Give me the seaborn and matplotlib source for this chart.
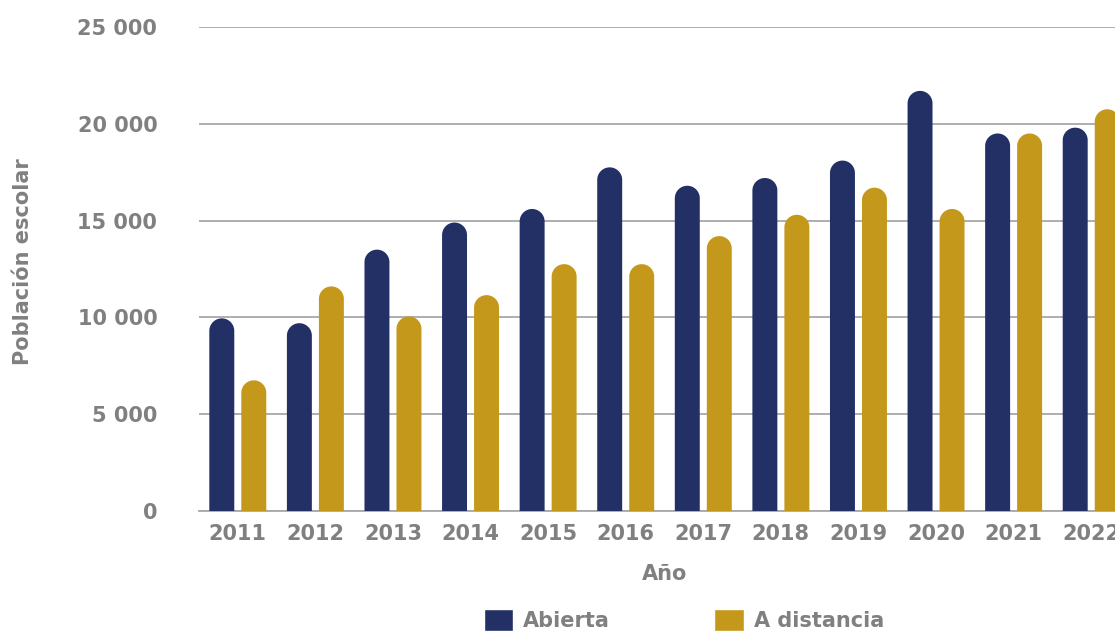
import matplotlib
matplotlib.use("Agg")
import matplotlib.pyplot as plt
from matplotlib.patches import PathPatch
from matplotlib.path import Path
import numpy as np
import seaborn as sns
import pandas as pd

years = ["2011", "2012", "2013", "2014", "2015", "2016", "2017", "2018", "2019", "2020", "2021", "2022"]
abierta = [9950, 9700, 13500, 14900, 15600, 17750, 16800, 17200, 18100, 21700, 19500, 19800]
a_distancia = [6750, 11600, 10050, 11150, 12750, 12750, 14200, 15300, 16700, 15600, 19500, 20750]
series_names = ["Abierta", "A distancia"]
y_ticks = [0, 5000, 10000, 15000, 20000, 25000]
y_ticklabels = ["0", "5 000", "10 000", "15 000", "20 000", "25 000"]

NAVY = "#223066"
GOLD = "#C4981A"
TEXT = "#808080"
GRID = "#a8a8a8"

df = pd.DataFrame({
    "Año": years * 2,
    "Serie": [series_names[0]] * len(years) + [series_names[1]] * len(years),
    "Valor": abierta + a_distancia,
})

sns.set_theme(style="white")
plt.rcParams["font.family"] = ["DejaVu Sans"]
FS = 15
FW = "bold"

W, H = 1115, 632
fig = plt.figure(figsize=(W / 100, H / 100), dpi=100)
ax_left, ax_right, ax_top, ax_bottom = 199, 1130, 27, 511
ax = fig.add_axes([ax_left / W, 1 - ax_bottom / H, (ax_right - ax_left) / W, (ax_bottom - ax_top) / H])

sns.barplot(data=df, x="Año", y="Valor", hue="Serie", hue_order=series_names,
            palette=[NAVY, GOLD], width=0.825, gap=0.22, saturation=1,
            ax=ax, zorder=3)

ax.set_xlim(-0.5, len(years) - 0.5)
ax.set_ylim(0, 25000)
ax.set_yticks(y_ticks)
ax.set_yticklabels(y_ticklabels)

# rounded tops: replace each bar's outline with a single rounded-top path
px_per_x = (ax_right - ax_left) / len(years)
px_per_y = (ax_bottom - ax_top) / 25000
theta = np.linspace(np.pi, 0, 40)
for cont in ax.containers:
    for rect in cont:
        x, w, h = rect.get_x(), rect.get_width(), rect.get_height()
        ry = (w * px_per_x / 2) / px_per_y
        cx, cy = x + w / 2, h - ry
        arc = np.column_stack([cx + (w / 2) * np.cos(theta), cy + ry * np.sin(theta)])
        verts = np.vstack([[x, 0], arc, [x + w, 0], [x, 0]])
        codes = [Path.MOVETO] + [Path.LINETO] * (len(verts) - 2) + [Path.CLOSEPOLY]
        patch = PathPatch(Path(verts, codes), facecolor=rect.get_facecolor(),
                          edgecolor="none", zorder=3, clip_on=False)
        ax.add_patch(patch)
        rect.set_visible(False)

ax.grid(axis="y", color=GRID, linewidth=1.3, zorder=0)
ax.grid(axis="x", visible=False)
for s in ["left", "right", "top"]:
    ax.spines[s].set_visible(False)
ax.spines["bottom"].set_color(GRID)
ax.spines["bottom"].set_linewidth(1.3)
ax.tick_params(axis="both", length=0, labelsize=FS, labelcolor=TEXT)
ax.tick_params(axis="y", pad=30)
ax.tick_params(axis="x", pad=9)
for lbl in ax.get_xticklabels() + ax.get_yticklabels():
    lbl.set_fontweight(FW)

ax.set_xlabel("Año", fontsize=FS, color=TEXT, fontweight=FW, labelpad=15)
ax.set_ylabel("")
fig.text(23 / W, 1 - 262 / H, "Población escolar", rotation=90, ha="center", va="center",
         fontsize=FS, color=TEXT, fontweight=FW)

sns.move_legend(ax, "center", bbox_to_anchor=(684 / W, 1 - 620 / H), bbox_transform=fig.transFigure,
                ncol=2, frameon=False, title=None, fontsize=FS, handlelength=1.4, handleheight=1.2,
                handletextpad=0.5, columnspacing=5.0)
for t in ax.get_legend().get_texts():
    t.set_color(TEXT)
    t.set_fontweight(FW)

fig.savefig("out.png", dpi=100)
